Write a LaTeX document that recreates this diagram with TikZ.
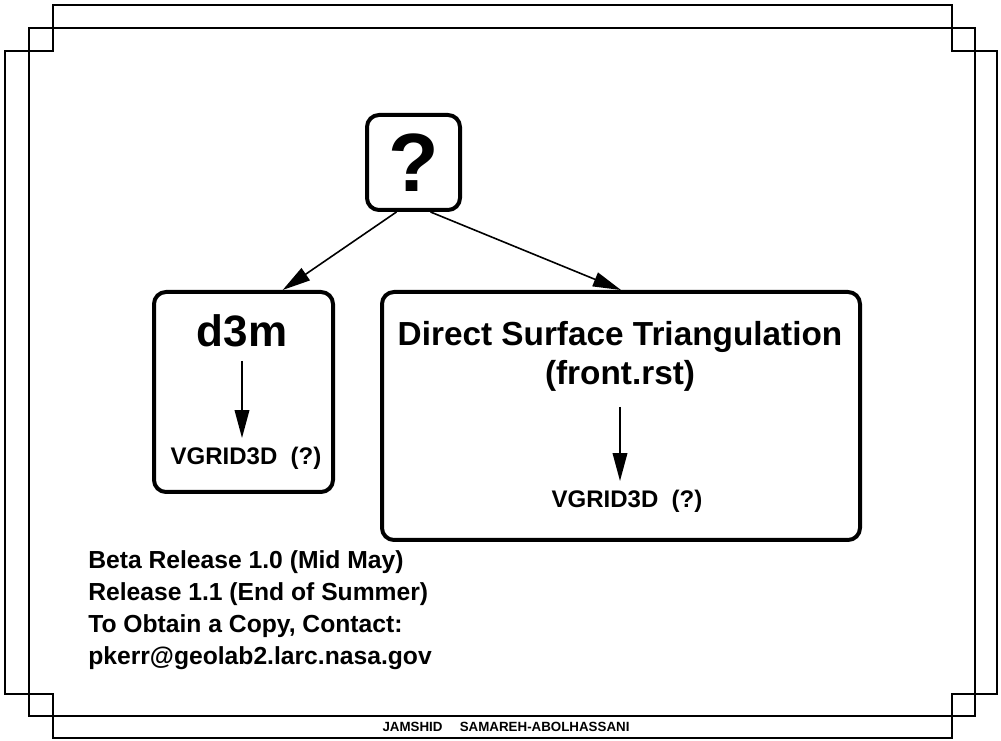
\documentclass[tikz,border=0pt]{standalone}
\usepackage{fontspec}
\setmainfont{Liberation Sans}
\usetikzlibrary{arrows.meta}
\newcommand{\HeadTip}{Triangle[length=21pt,width=11pt]}
\newcommand{\bfsz}[1]{\fontsize{#1}{#1}\selectfont\bfseries}
\tikzset{roundbox/.style={draw,line width=3pt,rounded corners=9pt,inner sep=0pt}}
\tikzset{flow/.style={-{\HeadTip},line width=1.2pt}}
\tikzset{label/.style={inner sep=0pt,anchor=base}}

\begin{document}
\begin{tikzpicture}[x=0.75pt,y=-0.75pt]
\useasboundingbox(0,0)rectangle(1001,741);
\draw[line width=1.2pt](53,5)--(952,5)--(952,51)--(997,51)--(997,694)--(952,694)--(952,738)--(53,738)--(53,694)--(5,694)--(5,51)--(53,51)--cycle;
\draw[line width=1.2pt](29,28)rectangle(975,716);
\node(author)[font=\bfsz{10}]at(506,727){JAMSHID\hspace{13pt}SAMAREH-ABOLHASSANI};
\node(q)[roundbox,minimum width=69.75pt,minimum height=71.25pt,font=\bfsz{62}]at(413.5,162.5){?};
\node(d3mbox)[roundbox,minimum width=134.25pt,minimum height=150pt]at(243.5,392){};
\node(dstbox)[roundbox,minimum width=358.5pt,minimum height=186pt]at(621,416){};
\node(d3m)[label,font=\bfsz{33}]at(242,347){d3m};
\node(d3mvg)[label,font=\bfsz{18}]at(246,465){VGRID3D\ \ (?)};
\begin{scope}[font=\bfsz{25}]
\node(dstname)[label]at(620,346){Direct Surface Triangulation};
\node(dstfile)[label]at(620,385){(front.rst)};
\end{scope}
\node(dstvg)[label,font=\bfsz{18}]at(627,508){VGRID3D\ \ (?)};
\draw[flow](q.251)--(d3mbox.69);\draw[flow](q.289)--(dstbox.north);
\draw[flow,shorten <=9.75pt,shorten >=7pt](d3m.south)--(d3m.south|-d3mvg.north);
\draw[flow,shorten <=11pt,shorten >=7pt](dstfile.south)--(dstfile.south|-dstvg.north);
\foreach \t[count=\i] in {Beta Release 1.0 (Mid May),Release 1.1 (End of Summer),{To Obtain a Copy, Contact:},pkerr@geolab2.larc.nasa.gov}
  \node(rel\i)[label,anchor=base west,font=\bfsz{18.5}]at(88,537+32*\i){\t};
\end{tikzpicture}
\end{document}
